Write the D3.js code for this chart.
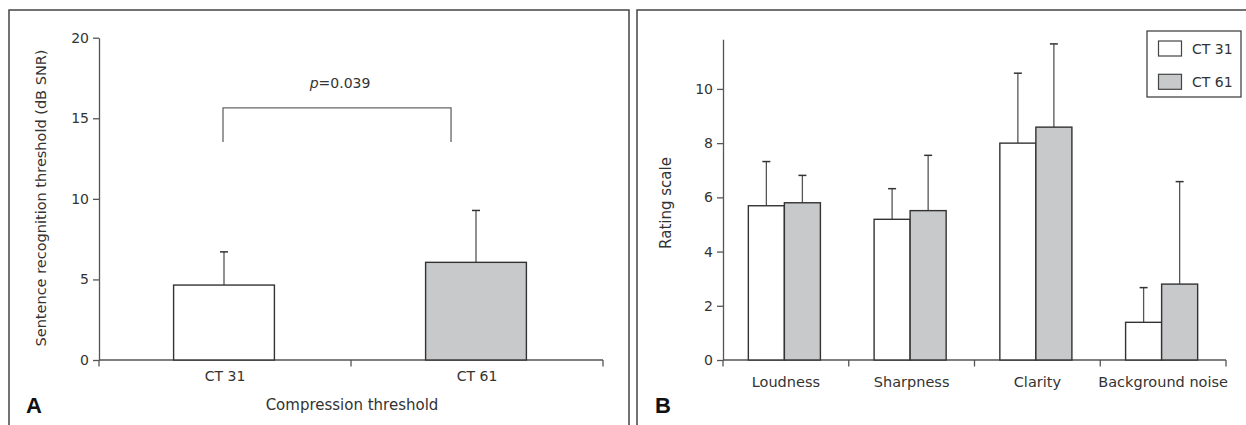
<!DOCTYPE html>
<meta charset="utf-8">
<html>
<head>
<script src="https://d3js.org/d3.v7.min.js" charset="utf-8"></script>
<style type="text/css">
    body { margin: 0; background: #fff; }
    text { font-family: "DejaVu Sans", sans-serif; fill: #333; }
    .axis path, .axis line { fill: none; stroke: #555; stroke-width: 1.3; }
    .axis text { font-size: 14px; fill: #333; }
    .panel { fill: none; stroke: #444; stroke-width: 1.5; }
</style>
</head>
<body>
<svg id="fig" width="1246" height="425"></svg>

<script type="text/javascript">
// Panel A data: sentence recognition threshold
var groupsA = ["CT 31", "CT 61"];
var meansA = [4.65, 6.06];
var errorsA = [2.06, 3.22];
var ticksA = [0, 5, 10, 15, 20];

// Panel B data: subjective ratings
var categoriesB = ["Loudness", "Sharpness", "Clarity", "Background noise"];
var seriesB = ["CT 31", "CT 61"];
var ct31Means = [5.69, 5.19, 8.0, 1.39];
var ct31Errors = [1.63, 1.13, 2.58, 1.28];
var ct61Means = [5.8, 5.51, 8.59, 2.8];
var ct61Errors = [1.01, 2.04, 3.07, 3.78];
var ticksB = [0, 2, 4, 6, 8, 10];

var fills = {"CT 31": "#ffffff", "CT 61": "#c8c9cb"};

var svg = d3.select("#fig");

// panel borders (open at the bottom)
svg.append("path").attr("class", "panel")
    .attr("d", "M9,425V10H629V425");
svg.append("path").attr("class", "panel")
    .attr("d", "M637,425V10H1246");

// ---------- Panel A ----------
var yA = d3.scaleLinear().domain([0, 20]).range([360, 37.7]);
var xA = d3.scaleBand().domain(groupsA).range([99, 603]);
var barW = xA.bandwidth() * 0.4;

var gA = svg.append("g");

// y axis
gA.append("g")
    .attr("class", "axis")
    .attr("transform", "translate(99,0)")
    .call(d3.axisLeft(yA).tickValues(ticksA).tickSize(6).tickSizeOuter(0).tickPadding(4));

// x axis with ticks at band edges, pointing down
gA.append("g")
    .attr("class", "axis")
    .attr("transform", "translate(0,360)")
    .call(d3.axisBottom(xA).tickSize(0).tickPadding(11))
    .call(function(g) {
        g.select(".domain").remove();
        g.selectAll(".tick line").remove();
    });
gA.append("line")
    .attr("x1", 99).attr("x2", 603).attr("y1", 360).attr("y2", 360)
    .attr("stroke", "#555").attr("stroke-width", 1.3);
gA.selectAll(".edge")
    .data([xA.range()[0], xA("CT 61"), xA.range()[1]])
    .enter().append("line")
    .attr("x1", function(d) { return d; }).attr("x2", function(d) { return d; })
    .attr("y1", 360).attr("y2", 366.5)
    .attr("stroke", "#555").attr("stroke-width", 1.3);

// error bars (upward only)
gA.selectAll(".errA")
    .data(groupsA)
    .enter().append("g")
    .each(function(d, i) {
        var cx = xA(d) + xA.bandwidth() / 2 - 1;
        var g = d3.select(this);
        g.append("line")
            .attr("x1", cx).attr("x2", cx)
            .attr("y1", yA(meansA[i])).attr("y2", yA(meansA[i] + errorsA[i]))
            .attr("stroke", "#555").attr("stroke-width", 1.3);
        g.append("line")
            .attr("x1", cx - 4).attr("x2", cx + 4)
            .attr("y1", yA(meansA[i] + errorsA[i])).attr("y2", yA(meansA[i] + errorsA[i]))
            .attr("stroke", "#333").attr("stroke-width", 1.5);
    });

// bars
gA.selectAll(".barA")
    .data(groupsA)
    .enter().append("rect")
    .attr("x", function(d) { return xA(d) + (xA.bandwidth() - barW) / 2 - 1; })
    .attr("y", function(d, i) { return yA(meansA[i]); })
    .attr("width", barW)
    .attr("height", function(d, i) { return yA(0) - yA(meansA[i]); })
    .attr("fill", function(d) { return fills[d]; })
    .attr("stroke", "#333")
    .attr("stroke-width", 1.4);

// significance bracket
var bracketTop = 15.64, bracketFoot = 13.53;
var bx1 = xA("CT 31") + xA.bandwidth() / 2 - 2;
var bx2 = xA("CT 61") + xA.bandwidth() * 0.397;
gA.append("path")
    .attr("d", "M" + bx1 + "," + yA(bracketFoot) + "V" + yA(bracketTop) +
               "H" + bx2 + "V" + yA(bracketFoot))
    .attr("fill", "none").attr("stroke", "#666").attr("stroke-width", 1.3);
var pText = gA.append("text")
    .attr("x", (bx1 + bx2) / 2 + 3)
    .attr("y", 88)
    .attr("text-anchor", "middle")
    .style("font-size", "14px");
pText.append("tspan").style("font-style", "italic").text("p");
pText.append("tspan").text("=0.039");

// axis titles
gA.append("text")
    .attr("text-anchor", "middle")
    .attr("transform", "translate(46,198)rotate(-90)")
    .style("font-size", "14.5px")
    .text("Sentence recognition threshold (dB SNR)");
gA.append("text")
    .attr("text-anchor", "middle")
    .attr("x", 352).attr("y", 410)
    .style("font-size", "15px")
    .text("Compression threshold");
gA.append("text")
    .attr("x", 26).attr("y", 413)
    .style("font-size", "22px").style("font-weight", "bold")
    .style("font-family", "Liberation Sans, sans-serif")
    .style("fill", "#111")
    .text("A");

// ---------- Panel B ----------
var yB = d3.scaleLinear().domain([0, 11.83]).range([360, 39.3]);
var xB = d3.scaleBand().domain(categoriesB).range([723, 1226]);
var xInner = d3.scaleBand().domain(seriesB).range([0, xB.bandwidth() * 0.573]);
var groupOff = (xB.bandwidth() - xInner.range()[1]) / 2 - 1.5;

var gB = svg.append("g");

gB.append("g")
    .attr("class", "axis")
    .attr("transform", "translate(723,0)")
    .call(d3.axisLeft(yB).tickValues(ticksB).tickSize(6).tickSizeOuter(0).tickPadding(4));

gB.append("g")
    .attr("class", "axis")
    .attr("transform", "translate(0,360)")
    .call(d3.axisBottom(xB).tickSize(0).tickPadding(17))
    .call(function(g) {
        g.select(".domain").remove();
        g.selectAll(".tick line").remove();
        g.selectAll(".tick text").style("font-size", "14.5px");
    });
gB.append("line")
    .attr("x1", 723).attr("x2", 1226).attr("y1", 360).attr("y2", 360)
    .attr("stroke", "#555").attr("stroke-width", 1.3);
gB.selectAll(".edge")
    .data([723].concat(categoriesB.slice(1).map(function(c) { return xB(c); })).concat([1226]))
    .enter().append("line")
    .attr("x1", function(d) { return d; }).attr("x2", function(d) { return d; })
    .attr("y1", 360).attr("y2", 366.5)
    .attr("stroke", "#555").attr("stroke-width", 1.3);

var rowsB = [];
categoriesB.forEach(function(c, i) {
    rowsB.push({cat: c, s: "CT 31", m: ct31Means[i], e: ct31Errors[i]});
    rowsB.push({cat: c, s: "CT 61", m: ct61Means[i], e: ct61Errors[i]});
});

// error bars
gB.selectAll(".errB")
    .data(rowsB)
    .enter().append("g")
    .each(function(d) {
        var cx = xB(d.cat) + groupOff + xInner(d.s) + xInner.bandwidth() / 2;
        var g = d3.select(this);
        g.append("line")
            .attr("x1", cx).attr("x2", cx)
            .attr("y1", yB(d.m)).attr("y2", yB(d.m + d.e))
            .attr("stroke", "#555").attr("stroke-width", 1.3);
        g.append("line")
            .attr("x1", cx - 4).attr("x2", cx + 4)
            .attr("y1", yB(d.m + d.e)).attr("y2", yB(d.m + d.e))
            .attr("stroke", "#333").attr("stroke-width", 1.5);
    });

// bars
gB.selectAll(".barB")
    .data(rowsB)
    .enter().append("rect")
    .attr("x", function(d) { return xB(d.cat) + groupOff + xInner(d.s); })
    .attr("y", function(d) { return yB(d.m); })
    .attr("width", xInner.bandwidth())
    .attr("height", function(d) { return yB(0) - yB(d.m); })
    .attr("fill", function(d) { return fills[d.s]; })
    .attr("stroke", "#333")
    .attr("stroke-width", 1.4);

// legend
var legend = gB.append("g").attr("transform", "translate(1147,31)");
legend.append("rect")
    .attr("width", 94).attr("height", 66)
    .attr("fill", "#fff").attr("stroke", "#444").attr("stroke-width", 1.3);
seriesB.forEach(function(s, i) {
    legend.append("rect")
        .attr("x", 11.5).attr("y", 10 + i * 33.3)
        .attr("width", 23).attr("height", 15)
        .attr("fill", fills[s]).attr("stroke", "#444").attr("stroke-width", 1.2);
    legend.append("text")
        .attr("x", 45).attr("y", 22.5 + i * 33.3)
        .style("font-size", "14px")
        .text(s);
});

gB.append("text")
    .attr("text-anchor", "middle")
    .attr("transform", "translate(671,203)rotate(-90)")
    .style("font-size", "15px")
    .text("Rating scale");
gB.append("text")
    .attr("x", 655).attr("y", 413)
    .style("font-size", "22px").style("font-weight", "bold")
    .style("font-family", "Liberation Sans, sans-serif")
    .style("fill", "#111")
    .text("B");
</script>
</body>
</html>
